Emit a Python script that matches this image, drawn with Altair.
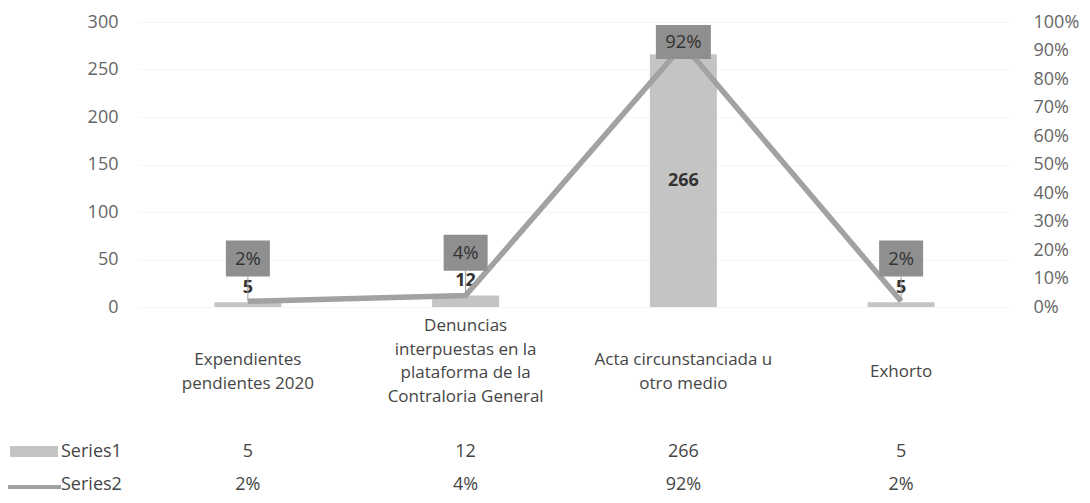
import altair as alt
import pandas as pd

categories = [
    "Expendientes pendientes 2020",
    "Denuncias interpuestas en la plataforma de la Contraloria General",
    "Acta circunstanciada u otro medio",
    "Exhorto",
]
category_lines = [
    "Expendientes\npendientes 2020",
    "Denuncias\ninterpuestas en la\nplataforma de la\nContraloria General",
    "Acta circunstanciada u\notro medio",
    "Exhorto",
]
series1 = [5, 12, 266, 5]
series2 = [0.02, 0.04, 0.92, 0.02]
series_names = ["Series1", "Series2"]
left_ticks = [0, 50, 100, 150, 200, 250, 300]
right_ticks = [0.0, 0.1, 0.2, 0.3, 0.4, 0.5, 0.6, 0.7, 0.8, 0.9, 1.0]

df = pd.DataFrame({"cat": categories, "label": category_lines, "s1": series1, "s2": series2})

FONT = "Open Sans"
BAR = "#c4c4c4"
LINE = "#a2a2a2"
BOX = "#8f8f8f"
TXT = "#454545"
AXTXT = "#666666"

base = alt.Chart(df)
x = alt.X("cat:N", sort=categories, axis=None,
          scale=alt.Scale(paddingInner=0, paddingOuter=0))

lscale = alt.Scale(domain=[0, 300])
laxis = alt.Axis(values=left_ticks, grid=True, gridColor="#f5f5f5",
                 domain=False, ticks=False, labelPadding=21,
                 labelFontSize=18, labelFont=FONT, labelColor=AXTXT,
                 title=None)

bars = base.mark_bar(width=67, color=BAR).encode(
    x=x, y=alt.Y("s1:Q", scale=lscale, axis=laxis))

bar_labels = base.transform_calculate(
    ly="datum.s1 > 100 ? datum.s1 / 2 : datum.s1 + 15"
).mark_text(font=FONT, fontSize=18, fontWeight="bold", color="#333333",
            baseline="middle").encode(
    x=x, y=alt.Y("ly:Q", scale=lscale, axis=laxis),
    text=alt.Text("s1:Q"))

left_layer = alt.layer(bars, bar_labels)

rscale = alt.Scale(domain=[0, 1])
raxis = alt.Axis(values=right_ticks, format=".0%", orient="right",
                 grid=False, domain=False, ticks=False, labelPadding=23,
                 labelFontSize=18, labelFont=FONT, labelColor=AXTXT,
                 title=None)

line = base.mark_line(color=LINE, strokeWidth=5.5).encode(
    x=x, y=alt.Y("s2:Q", scale=rscale, axis=raxis))

boxed = base.transform_calculate(
    by="datum.s2 > 0.5 ? datum.s2 + 0.01 : datum.s2 + 0.15",
    bb="datum.s2 + 0.15 - 0.063",
)

leaders = boxed.transform_filter("datum.s2 < 0.5").mark_rule(
    color="#9a9a9a", strokeWidth=1).encode(
    x=x, y=alt.Y("s2:Q", scale=rscale, axis=raxis), y2="bb:Q")

boxes_small = boxed.transform_filter("datum.s2 < 0.1").mark_point(
    shape="M-1,-0.818H1V0.818H-1Z", size=1936, filled=True, fill=BOX,
    opacity=1, strokeWidth=0).encode(
    x=x, y=alt.Y("by:Q", scale=rscale, axis=raxis))

boxes_wide = boxed.transform_filter("datum.s2 >= 0.1").mark_point(
    shape="M-1,-0.62H1V0.62H-1Z", size=3025, filled=True, fill=BOX,
    opacity=1, strokeWidth=0).encode(
    x=x, y=alt.Y("by:Q", scale=rscale, axis=raxis))

box_text = boxed.mark_text(font=FONT, fontSize=18.5, color="#333333",
                           baseline="middle").encode(
    x=x, y=alt.Y("by:Q", scale=rscale, axis=raxis),
    text=alt.Text("s2:Q", format=".0%"))

right_layer = alt.layer(line, leaders, boxes_small, boxes_wide, box_text)

# category labels of the data table, vertically centred by their line count
first_line_y = {1: 350, 2: 338, 3: 326, 4: 304}
cat_layers = []
for k, yv in first_line_y.items():
    cat_layers.append(
        base.transform_calculate(n="length(split(datum.label, '\\n'))")
        .transform_filter(f"datum.n == {k}")
        .mark_text(font=FONT, fontSize=17, color=TXT, baseline="middle",
                   lineBreak="\n", lineHeight=23.5)
        .encode(x=x, y=alt.value(yv), text="label:N")
    )

row1 = base.mark_text(font=FONT, fontSize=18, color=TXT, baseline="middle").encode(
    x=x, y=alt.value(430), text=alt.Text("s1:Q"))
row2 = base.mark_text(font=FONT, fontSize=18, color=TXT, baseline="middle").encode(
    x=x, y=alt.value(463), text=alt.Text("s2:Q", format=".0%"))

leg_df = pd.DataFrame({"name": series_names})
leg = alt.Chart(leg_df)
key1 = leg.transform_filter(alt.datum.name == "Series1").mark_rect(color=BAR).encode(
    x=alt.value(-129), x2=alt.value(-81), y=alt.value(424), y2=alt.value(435))
key2 = leg.transform_filter(alt.datum.name == "Series2").mark_rule(
    color=LINE, strokeWidth=4).encode(
    x=alt.value(-132), x2=alt.value(-78), y=alt.value(465), y2=alt.value(465))
key1_t = leg.transform_filter(alt.datum.name == "Series1").mark_text(
    font=FONT, fontSize=18, color=TXT, align="left", baseline="middle").encode(
    x=alt.value(-78), y=alt.value(430), text="name:N")
key2_t = leg.transform_filter(alt.datum.name == "Series2").mark_text(
    font=FONT, fontSize=18, color=TXT, align="left", baseline="middle").encode(
    x=alt.value(-78), y=alt.value(463), text="name:N")

chart = alt.layer(
    left_layer, right_layer, *cat_layers, row1, row2, key1, key2, key1_t, key2_t
).resolve_scale(y="independent").properties(
    width=871, height=285,
    padding={"left": 131, "top": 14, "right": 72, "bottom": 188},
    autosize=alt.AutoSizeParams(type="none"),
    background="white",
).configure_view(stroke=None)

chart.save("out.html", embed_options={"renderer": "svg", "actions": False})
